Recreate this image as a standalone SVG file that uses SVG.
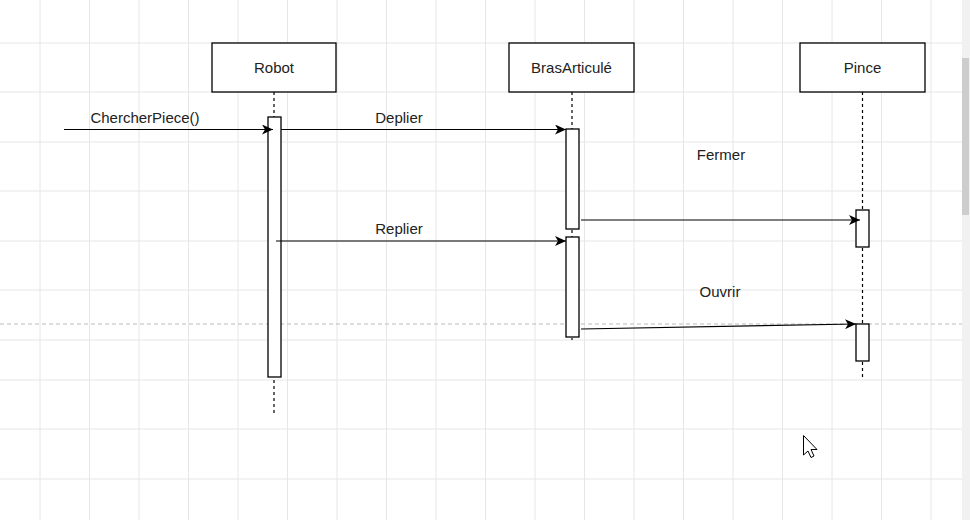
<svg xmlns="http://www.w3.org/2000/svg" width="970" height="520" viewBox="0 0 970 520">
<style>
.grid line{stroke:#e6e6e6;stroke-width:1}
.box{fill:#fff;stroke:#000;stroke-width:1.3}
.act{fill:#fff;stroke:#000;stroke-width:1.3}
.life{stroke:#000;stroke-width:1.2;stroke-dasharray:3,3;fill:none}
.msg{stroke:#000;stroke-width:1.2;fill:none}
text{font-family:"Liberation Sans",Arial,sans-serif;font-size:15px;fill:#222}
</style>
<defs>
<marker id="ah" markerUnits="userSpaceOnUse" markerWidth="12" markerHeight="10" refX="11" refY="5" orient="auto">
<path d="M0,0 L11,5 L0,10 L3,5 z" fill="#000"/>
</marker>
</defs>
<rect x="0" y="0" width="970" height="520" fill="#fff"/>
<g class="grid">
<line x1="40" y1="0" x2="40" y2="520"/><line x1="89.5" y1="0" x2="89.5" y2="520"/><line x1="139" y1="0" x2="139" y2="520"/><line x1="188.5" y1="0" x2="188.5" y2="520"/><line x1="238" y1="0" x2="238" y2="520"/><line x1="287.5" y1="0" x2="287.5" y2="520"/><line x1="337" y1="0" x2="337" y2="520"/><line x1="386.5" y1="0" x2="386.5" y2="520"/><line x1="436" y1="0" x2="436" y2="520"/><line x1="485.5" y1="0" x2="485.5" y2="520"/><line x1="535" y1="0" x2="535" y2="520"/><line x1="584.5" y1="0" x2="584.5" y2="520"/><line x1="634" y1="0" x2="634" y2="520"/><line x1="683.5" y1="0" x2="683.5" y2="520"/><line x1="733" y1="0" x2="733" y2="520"/><line x1="782.5" y1="0" x2="782.5" y2="520"/><line x1="832" y1="0" x2="832" y2="520"/><line x1="881.5" y1="0" x2="881.5" y2="520"/><line x1="931" y1="0" x2="931" y2="520"/>
<line x1="0" y1="43" x2="962" y2="43"/><line x1="0" y1="92" x2="962" y2="92"/><line x1="0" y1="142" x2="962" y2="142"/><line x1="0" y1="191" x2="962" y2="191"/><line x1="0" y1="241" x2="962" y2="241"/><line x1="0" y1="290" x2="962" y2="290"/><line x1="0" y1="340" x2="962" y2="340"/><line x1="0" y1="380" x2="962" y2="380"/><line x1="0" y1="429" x2="962" y2="429"/><line x1="0" y1="479" x2="962" y2="479"/>
</g>
<line x1="0" y1="324" x2="962" y2="324" stroke="#bbb" stroke-width="1" stroke-dasharray="4,3"/>
<g id="robot">
<line class="life" x1="274" y1="92" x2="274" y2="415"/>
<rect class="box" x="212" y="43" width="124" height="49"/>
<text x="274" y="73" text-anchor="middle">Robot</text>
<rect class="act" x="268" y="117" width="13" height="260"/>
</g>
<g id="bras">
<line class="life" x1="572" y1="92" x2="572" y2="340"/>
<rect class="box" x="509" y="43" width="125" height="49"/>
<text x="571.5" y="73" text-anchor="middle">BrasArticulé</text>
<rect class="act" x="566" y="129" width="13" height="100"/>
<rect class="act" x="566" y="237" width="13" height="100"/>
</g>
<g id="pince">
<line class="life" x1="862.5" y1="92" x2="862.5" y2="377"/>
<rect class="box" x="800" y="43" width="125" height="49"/>
<text x="862.5" y="73" text-anchor="middle">Pince</text>
<rect class="act" x="856" y="210" width="13" height="37"/>
<rect class="act" x="856" y="324" width="13" height="37"/>
</g>
<g id="connectors">
<line class="msg" x1="64" y1="129.5" x2="273" y2="129.5" marker-end="url(#ah)"/>
<line class="msg" x1="281" y1="129.5" x2="566" y2="129.5" marker-end="url(#ah)"/>
<line class="msg" x1="581" y1="220" x2="860" y2="220" marker-end="url(#ah)"/>
<line class="msg" x1="276" y1="241" x2="566" y2="241" marker-end="url(#ah)"/>
<line class="msg" x1="581" y1="329" x2="856" y2="324" marker-end="url(#ah)" stroke-width="1.5"/>
</g>
<g id="labels">
<text x="145" y="123" text-anchor="middle">ChercherPiece()</text>
<text x="399" y="123" text-anchor="middle">Deplier</text>
<text x="721" y="160" text-anchor="middle">Fermer</text>
<text x="399" y="234" text-anchor="middle">Replier</text>
<text x="720" y="297" text-anchor="middle">Ouvrir</text>
</g>
<rect x="962" y="0" width="8" height="520" fill="#f1f1f1"/>
<rect x="962" y="58" width="7" height="157" fill="#cdcdcd"/>
<path d="M803.5,435.5 L803.5,455 L808,451 L811,457.5 L814,456 L811,449.5 L817,449.5 Z" fill="#fff" stroke="#000" stroke-width="1"/>
</svg>
